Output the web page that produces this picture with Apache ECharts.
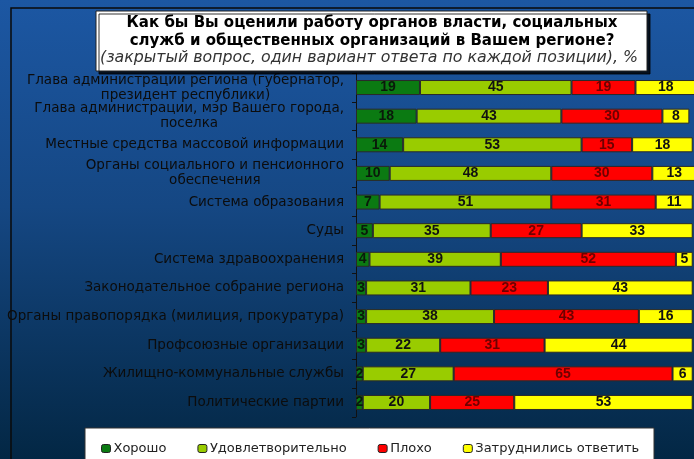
<!DOCTYPE html>
<html>
<head>
<meta charset="utf-8">
<script src="https://cdn.jsdelivr.net/npm/echarts@6/dist/echarts.min.js"></script>
<style>
  html, body { margin: 0; padding: 0; }
  #main { width: 694px; height: 459px; }
</style>
</head>
<body>
<div id="main"></div>
<script>
// categories, top to bottom
var categories = [
  'Глава администрации региона (губернатор,\nпрезидент республики)',
  'Глава администрации, мэр Вашего города,\nпоселка',
  'Местные средства массовой информации',
  'Органы социального и пенсионного\nобеспечения',
  'Система образования',
  'Суды',
  'Система здравоохранения',
  'Законодательное собрание региона',
  'Органы правопорядка (милиция, прокуратура)',
  'Профсоюзные организации',
  'Жилищно-коммунальные службы',
  'Политические партии'
]
var seriesNames = ['Хорошо', 'Удовлетворительно', 'Плохо', 'Затруднились ответить']
var goodValues = [19, 18, 14, 10, 7, 5, 4, 3, 3, 3, 2, 2]
var okValues = [45, 43, 53, 48, 51, 35, 39, 31, 38, 22, 27, 20]
var badValues = [19, 30, 15, 30, 31, 27, 52, 23, 43, 31, 65, 25]
var hardValues = [18, 8, 18, 13, 11, 33, 5, 43, 16, 44, 6, 53]

var titleLines = [
  'Как бы Вы оценили работу органов власти, социальных',
  'служб и общественных организаций в Вашем регионе?',
  '(закрытый вопрос, один вариант ответа по каждой позиции), %'
]

var FONT = '"DejaVu Sans", Arial'

var chart = echarts.init(document.getElementById('main'))

function barSeries(name, data, color, labelColor) {
  return {
    name: name,
    type: 'bar',
    stack: 'total',
    barWidth: 15,
    data: data,
    itemStyle: { color: color, borderColor: '#2a2a2a', borderWidth: 1 },
    label: {
      show: true,
      position: 'inside',
      color: labelColor,
      fontFamily: 'Arial',
      fontWeight: 'bold',
      fontSize: 14
    },
    emphasis: { disabled: true }
  }
}

var option = {
  backgroundColor: {
    type: 'linear', x: 0, y: 0, x2: 0, y2: 1,
    colorStops: [
      { offset: 0, color: '#1c57a3' },
      { offset: 0.45, color: '#154783' },
      { offset: 1, color: '#032744' }
    ]
  },
  animation: false,
  graphic: [
    // рамка
    {
      type: 'rect', z: 0,
      shape: { x: 11, y: 8, width: 720, height: 480 },
      style: { fill: null, stroke: '#0a0a0a', lineWidth: 1.5 }
    },
    // заголовок
    {
      type: 'rect', z: 1,
      shape: { x: 96, y: 11, width: 551, height: 60 },
      style: {
        fill: '#ffffff', stroke: '#222', lineWidth: 1,
        shadowColor: 'rgba(0,0,0,0.8)', shadowOffsetX: 3, shadowOffsetY: 3
      }
    },
    {
      type: 'text', z: 2, x: 372, y: 23,
      style: {
        text: titleLines[0], align: 'center', verticalAlign: 'middle',
        fill: '#000', font: 'bold 15px ' + FONT
      }
    },
    {
      type: 'text', z: 2, x: 372, y: 41,
      style: {
        text: titleLines[1], align: 'center', verticalAlign: 'middle',
        fill: '#000', font: 'bold 15px ' + FONT
      }
    },
    {
      type: 'text', z: 2, x: 369, y: 58,
      style: {
        text: titleLines[2], align: 'center', verticalAlign: 'middle',
        fill: '#333', font: 'italic 15.8px ' + FONT
      }
    },
    // легенда
    {
      type: 'rect', z: 1,
      shape: { x: 85, y: 428, width: 569, height: 40 },
      style: { fill: '#ffffff', stroke: '#333', lineWidth: 1 }
    }
  ],
  legend: {
    data: seriesNames,
    left: 96,
    top: 437,
    itemGap: 31,
    itemWidth: 9,
    itemHeight: 8,
    itemStyle: { borderColor: '#222', borderWidth: 1 },
    textStyle: { fontFamily: FONT, fontSize: 13, color: '#222', padding: [0, 0, 0, -2] },
    selectedMode: false,
    z: 3
  },
  grid: {
    left: 356,
    top: 73.2,
    bottom: 42.2,
    width: 370.4,
    outerBoundsMode: 'none'
  },
  xAxis: {
    type: 'value',
    min: 0,
    max: 110,
    show: false
  },
  yAxis: {
    type: 'category',
    inverse: true,
    data: categories,
    axisLine: { lineStyle: { color: '#111', width: 1 } },
    axisTick: { show: true, length: 4, lineStyle: { color: '#111' } },
    axisLabel: {
      interval: 0,
      margin: 12,
      color: '#0c0c0c',
      fontFamily: FONT,
      fontSize: 13.5,
      lineHeight: 15,
      formatter: function (value) {
        return value.split('\n').map(function (s) { return '{c|' + s + '}' }).join('\n')
      },
      rich: {
        c: { align: 'center', fontFamily: FONT, fontSize: 13.5, lineHeight: 15, color: '#0c0c0c' }
      }
    }
  },
  series: [
    barSeries(seriesNames[0], goodValues, '#0b7a12', '#0a1a0a'),
    barSeries(seriesNames[1], okValues, '#99cc00', '#111'),
    barSeries(seriesNames[2], badValues, '#ff0000', '#6e0000'),
    barSeries(seriesNames[3], hardValues, '#ffff00', '#111')
  ]
}

chart.setOption(option)
</script>
</body>
</html>
